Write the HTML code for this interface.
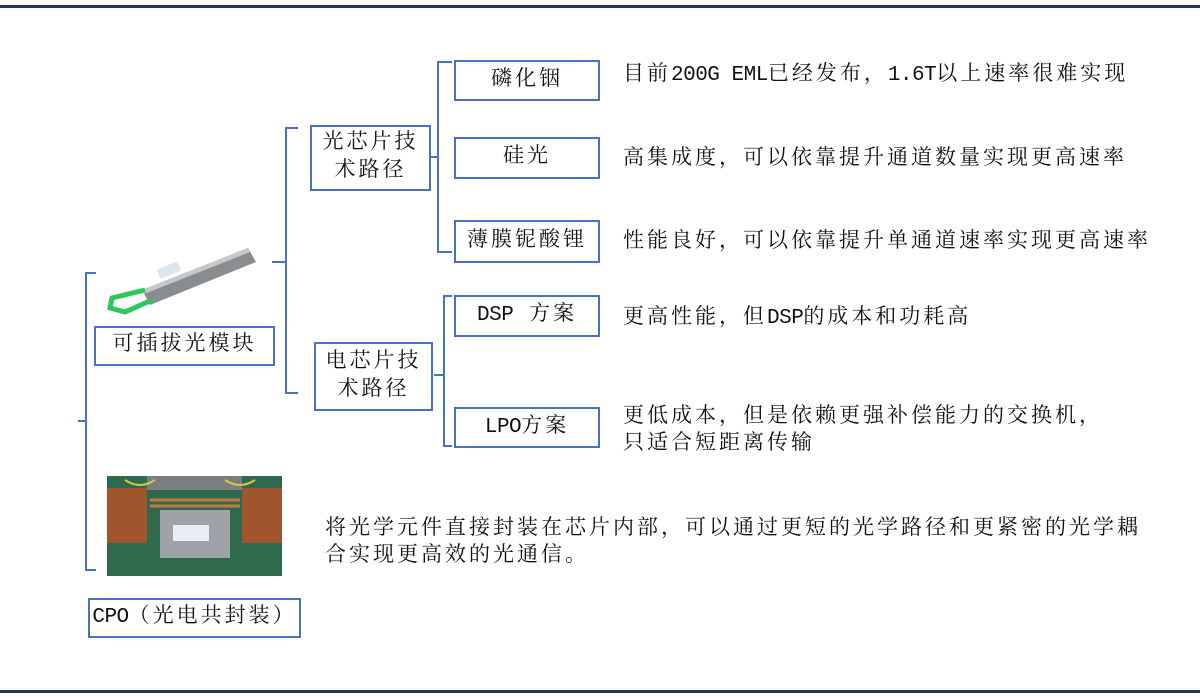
<!DOCTYPE html>
<html><head><meta charset="utf-8"><style>
body{margin:0;width:1200px;height:699px;background:#fff;position:relative;overflow:hidden;font-family:"Liberation Mono","Noto Serif CJK SC",serif;color:#111}
.b{position:absolute;border:2px solid #4a72c4;box-sizing:border-box;display:flex;align-items:center;justify-content:center;text-align:center;font-size:21px;line-height:28px;letter-spacing:3px}
.t{position:absolute;font-size:21px;line-height:27px;white-space:nowrap;letter-spacing:3px}
.n{letter-spacing:-0.5px}
</style></head><body>
<div style="position:absolute;left:0;top:5px;width:1200px;height:3px;background:#1f3b5a"></div>
<div style="position:absolute;left:0;top:690px;width:1200px;height:3px;background:#1f3b5a"></div>
<svg width="1200" height="699" style="position:absolute;left:0;top:0" fill="none" stroke="#4a72c4" stroke-width="2">
<path d="M96 273 H86 V570 H96 M78 421 H86"/>
<path d="M298 128 H286 V393 H298 M272 262 H286"/>
<path d="M452 62 H438 V252 H452 M430 157 H438"/>
<path d="M452 296 H444 V446 H452 M434 375 H444"/>
<g stroke="none">
<polygon points="142,290 248,248 256,262 150,305" fill="#8a8d90"/>
<polygon points="142,290 248,248 250,252 144,294" fill="#c8c8c8"/>
<rect x="158" y="265" width="22" height="10" fill="#dfe5ea" transform="rotate(-22 169 270)"/>
</g>
<path d="M145 290 L112 298 L110 308 L125 312 L152 300" stroke="#2fc65a" stroke-width="5"/>
<rect x="107" y="476" width="175" height="100" fill="#2f6a4e" stroke="none"/>
<rect x="107" y="488" width="40" height="55" fill="#a0552e" stroke="none"/>
<rect x="242" y="488" width="40" height="55" fill="#a0552e" stroke="none"/>
<rect x="147" y="476" width="95" height="14" fill="#7a7e80" stroke="none"/>
<rect x="160" y="510" width="70" height="48" fill="#9ea3a8" stroke="none"/>
<rect x="173" y="525" width="36" height="16" fill="#e8eef6" stroke="none"/>
<path d="M150 500 L240 500 M150 506 L240 506" stroke="#c57a44" stroke-width="3"/>
<path d="M125 480 q15 10 30 0 M225 480 q15 10 30 0" stroke="#d8c640" stroke-width="2"/>
</svg>
<div class="b" style="left:94px;top:326px;width:181px;height:40px">可插拔光模块</div>
<div class="b" style="left:88px;top:598px;width:213px;height:40px"><span class="n">CPO</span>（光电共封装）</div>
<div class="b" style="left:310px;top:125px;width:121px;height:66px">光芯片技<br>术路径</div>
<div class="b" style="left:314px;top:342px;width:119px;height:69px">电芯片技<br>术路径</div>
<div class="b" style="left:454px;top:60px;width:146px;height:41px">磷化铟</div>
<div class="b" style="left:454px;top:137px;width:146px;height:42px">硅光</div>
<div class="b" style="left:454px;top:220px;width:146px;height:43px">薄膜铌酸锂</div>
<div class="b" style="left:454px;top:295px;width:146px;height:42px"><span class="n">DSP</span>&nbsp;方案</div>
<div class="b" style="left:454px;top:407px;width:146px;height:41px"><span class="n">LPO</span>方案</div>
<div class="t" style="left:623px;top:62px">目前<span class="n">200G EML</span>已经发布，<span class="n">1.6T</span>以上速率很难实现</div>
<div class="t" style="left:623px;top:146px">高集成度，可以依靠提升通道数量实现更高速率</div>
<div class="t" style="left:623px;top:229px">性能良好，可以依靠提升单通道速率实现更高速率</div>
<div class="t" style="left:623px;top:305px">更高性能，但<span class="n">DSP</span>的成本和功耗高</div>
<div class="t" style="left:623px;top:404px">更低成本，但是依赖更强补偿能力的交换机，<br>只适合短距离传输</div>
<div class="t" style="left:325px;top:516px">将光学元件直接封装在芯片内部，可以通过更短的光学路径和更紧密的光学耦<br>合实现更高效的光通信。</div>
</body></html>
